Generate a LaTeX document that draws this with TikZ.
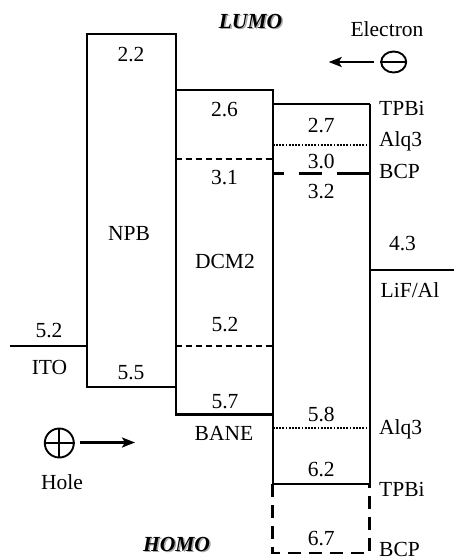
\documentclass[tikz,border=0pt]{standalone}
\usepackage{fontspec}
\setmainfont{Liberation Serif}
\usetikzlibrary{arrows.meta,shapes.geometric}
\begin{document}
\begin{tikzpicture}[x=1pt,y=-1pt,
  lbl/.style={inner sep=0pt, anchor=base, font=\fontsize{21.5}{24}\selectfont},
  lbll/.style={lbl, anchor=base west},
  lev/.style={inner sep=0pt, anchor=base, font=\fontsize{21.5}{24}\selectfont\bfseries\itshape},
  levshadow/.style={lev, text=black!35},
  box/.style={line width=2.2pt},
  dsh/.style={line width=2pt, dash pattern=on 6pt off 4pt},
  dotl/.style={line width=2.6pt, dash pattern=on 1.8pt off 1.4pt},
  ldsh/.style={line width=2.8pt, dash pattern=on 11pt off 15pt on 23pt off 15pt on 40pt},
  bdsh/.style={line width=2.8pt, dash pattern=on 13pt off 8pt},
  arr/.style={line width=2.4pt, -{Stealth[length=13pt,width=10pt,inset=3pt]}},
  chg/.style={line width=1.9pt}
]
\useasboundingbox (0,0) rectangle (454,558);

% NPB box
\coordinate (npbTL) at (86.7,34);
\coordinate (npbBR) at (175.7,387);
\draw[box] (npbTL) rectangle (npbBR);
% DCM2 box
\coordinate (dcmTL) at (175.7,90);
\coordinate (dcmBR) at (272.7,414.5);
\draw[box] (dcmTL) rectangle (dcmBR);
\draw[dsh] (175.7,159) -- (272.7,159);
\draw[dsh] (175.7,345.7) -- (272.7,345.7);
% ITO
\draw[box] (10,345.7) -- (86.7,345.7);
% right column
\draw[box] (272.7,104) -- (369.7,104);
\draw[box] (272.7,90) -- (272.7,484);
\draw[box] (369.7,104) -- (369.7,484);
\draw[box] (272.7,484) -- (369.7,484);
\draw[dotl] (272.7,145) -- (369.7,145);
\draw[ldsh] (272.7,173.7) -- (369.7,173.7);
\draw[dotl] (272.7,428) -- (369.7,428);
\draw[bdsh] (272.7,484) -- (272.7,553) -- (369.7,553) -- (369.7,484);
% LiF/Al
\draw[box] (369.7,269.7) -- (454,269.7);

% texts
\node[lbl] (t22) at (131,61) {2.2};
\node[lbl] (tnpb) at (129,240) {NPB};
\node[lbl] (t55) at (131,379) {5.5};
\node[lbl] (t52i) at (49,337) {5.2};
\node[lbl] (tito) at (49.5,374) {ITO};
\node[lbl] (t26) at (224.5,116) {2.6};
\node[lbl] (t31) at (224.5,184) {3.1};
\node[lbl] (tdcm) at (225,268) {DCM2};
\node[lbl] (t52) at (225,331) {5.2};
\node[lbl] (t57) at (225,408) {5.7};
\node[lbl] (tbane) at (224,440) {BANE};
\node[lbl] (t27) at (321.2,132) {2.7};
\node[lbl] (t30) at (321.2,168) {3.0};
\node[lbl] (t32) at (321.2,198) {3.2};
\node[lbl] (t58) at (321.2,421) {5.8};
\node[lbl] (t62) at (321.2,476) {6.2};
\node[lbl] (t67) at (321.2,545) {6.7};
\node[lbll] (ltpbi1) at (379,115) {TPBi};
\node[lbll] (lalq1) at (379,146) {Alq3};
\node[lbll] (lbcp1) at (379,178) {BCP};
\node[lbl] (t43) at (402.5,250) {4.3};
\node[lbll] (llif) at (380.5,297) {LiF/Al};
\node[lbll] (lalq2) at (379,434) {Alq3};
\node[lbll] (ltpbi2) at (379,496) {TPBi};
\node[lbll] (lbcp2) at (379,556.5) {BCP};
\node[lbl] (telec) at (387,36) {Electron};
\node[lbl] (thole) at (62,489) {Hole};
\node[levshadow] at (252,29.5) {LUMO};
\node[lev] (tlumo) at (250.5,28) {LUMO};
\node[levshadow] at (178,552.5) {HOMO};
\node[lev] (thomo) at (176.5,551) {HOMO};

% electron
\node[chg, draw, ellipse, minimum width=25pt, minimum height=21pt, inner sep=0pt] (ecirc) at (393.7,62) {};
\draw[chg] (ecirc.west) -- (ecirc.east);
\coordinate (etail) at (373.7,62);
\coordinate (ehead) at (328.7,62);
\draw[arr] (etail) -- (ehead);
% hole
\node[chg, draw, circle, minimum size=29pt, inner sep=0pt] (hcirc) at (59.3,443) {};
\draw[chg] (hcirc.west) -- (hcirc.east);
\draw[chg] (hcirc.north) -- (hcirc.south);
\coordinate (htail) at (80,442.5);
\coordinate (hhead) at (135,442.5);
\draw[arr] (htail) -- (hhead);
\end{tikzpicture}
\end{document}
